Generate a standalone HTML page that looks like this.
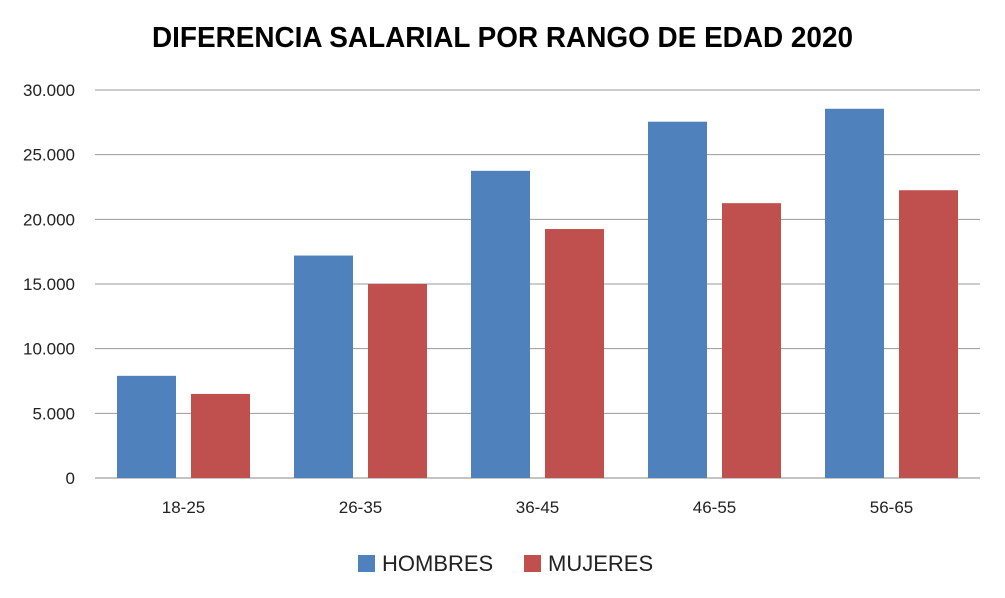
<!DOCTYPE html>
<html><head><meta charset="utf-8"><style>
html,body{margin:0;padding:0;background:#fff;}
svg{display:block;font-family:"Liberation Sans",sans-serif;}
</style></head><body>
<svg id="chart" width="1005" height="598" viewBox="0 0 1005 598" xmlns="http://www.w3.org/2000/svg">
<text x="152" y="47" textLength="701" lengthAdjust="spacingAndGlyphs" font-size="29" font-weight="bold" fill="#000">DIFERENCIA SALARIAL POR RANGO DE EDAD 2020</text>
<g id="grid"></g><g id="bars"></g><g id="xlabels"></g>
<g>
<rect x="358" y="555" width="17" height="17" fill="#4F81BD"/>
<text x="382" y="571" font-size="22" fill="#222">HOMBRES</text>
<rect x="524" y="555" width="17" height="17" fill="#C0504D"/>
<text x="548" y="571" font-size="22" fill="#222">MUJERES</text>
</g>
</svg>
<script>
const categories=["18-25","26-35","36-45","46-55","56-65"];
const hombres=[7900,17200,23750,27550,28550];
const mujeres=[6500,15000,19250,21250,22250];
const yTicks=[0,5000,10000,15000,20000,25000,30000];
const yTickLabels=["0","5.000","10.000","15.000","20.000","25.000","30.000"];
const NS="http://www.w3.org/2000/svg";
const x0=95,x1=980,yBase=478,yTop=90,yMax=30000;
const y=v=>yBase-(v/yMax)*(yBase-yTop);
const band=(x1-x0)/categories.length;
function mk(t,a,p){const e=document.createElementNS(NS,t);for(const k in a)e.setAttribute(k,a[k]);p.appendChild(e);return e;}
const grid=document.getElementById('grid'),bars=document.getElementById('bars'),xl=document.getElementById('xlabels');
yTicks.forEach((v,i)=>{
 const l=mk('line',{x1:x0,x2:x1,y1:y(v),y2:y(v),stroke:v===0?'#888':'#999','stroke-width':1},grid);
 
 
 const t=mk('text',{x:75,y:y(v)+6,'text-anchor':'end','font-size':17,fill:'#222'},grid);
 t.textContent=yTickLabels[i];
 
 
});
const bw=59,gap=15;
categories.forEach((c,i)=>{
 const cx=x0+band*(i+0.5);
 const b1=mk('rect',{x:cx-gap/2-bw,y:y(hombres[i]),width:bw,height:yBase-y(hombres[i]),fill:'#4F81BD'},bars);
 
 
 const b2=mk('rect',{x:cx+gap/2,y:y(mujeres[i]),width:bw,height:yBase-y(mujeres[i]),fill:'#C0504D'},bars);
 
 
 const t=mk('text',{x:cx,y:513,'text-anchor':'middle','font-size':17,fill:'#222'},xl);
 t.textContent=c;
 
 
});
</script>
</body></html>
